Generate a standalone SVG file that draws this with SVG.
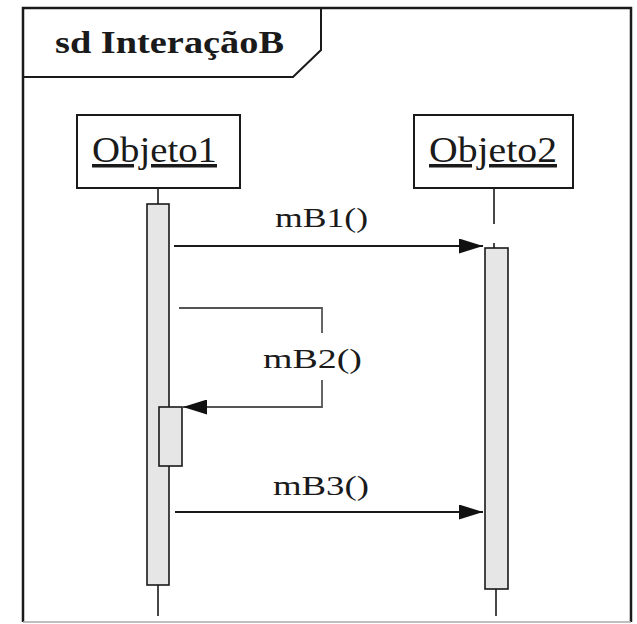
<svg xmlns="http://www.w3.org/2000/svg" width="637" height="624" viewBox="0 0 637 624">
<style>
  .frame{fill:none;stroke:#1a1a1a;stroke-width:2.5}
  .box{fill:#fff;stroke:#1a1a1a;stroke-width:2}
  .act{fill:#e6e6e6;stroke:#1a1a1a;stroke-width:1.6}
  .life{fill:none;stroke:#1a1a1a;stroke-width:1.6}
  .msg{fill:none;stroke:#1a1a1a;stroke-width:1.8}
  .self{fill:none;stroke:#555;stroke-width:1.8}
  .lbl{font-family:"Liberation Serif","DejaVu Serif",serif;font-size:28px;fill:#1a1a1a}
  .obj{font-family:"Liberation Serif","DejaVu Serif",serif;font-size:35px;fill:#1a1a1a;text-decoration:underline}
  .title{font-family:"Liberation Serif","DejaVu Serif",serif;font-size:31px;font-weight:bold;fill:#1a1a1a}
</style>
<defs>
  <marker id="arrow" viewBox="0 0 24 15" refX="24" refY="7.5" markerWidth="24" markerHeight="15" markerUnits="userSpaceOnUse" orient="auto">
    <path d="M0,0 L24,7.5 L0,15 Z" fill="#111"/>
  </marker>
</defs>
<rect width="637" height="624" fill="#fff"/>
<g id="frame">
  <path class="frame" d="M23,622 L23,8 L631,8 L631,622"/>
  <line x1="23" y1="622" x2="631" y2="622" stroke="#aaa" stroke-width="1.5"/>
  <path d="M23,77 L293,77 L321,50 L321,8" fill="none" stroke="#1a1a1a" stroke-width="2"/>
  <text class="title" x="55" y="53" textLength="229" lengthAdjust="spacingAndGlyphs">sd InteraçãoB</text>
</g>
<g id="objeto1">
  <line class="life" x1="158" y1="188" x2="158" y2="204"/>
  <line class="life" x1="158" y1="585" x2="158" y2="616"/>
  <rect class="box" x="77" y="115" width="163" height="73"/>
  <text class="obj" x="92" y="162" textLength="125" lengthAdjust="spacingAndGlyphs">Objeto1</text>
  <rect class="act" x="147" y="204" width="22" height="381"/>
  <rect class="act" x="159" y="407" width="23" height="59"/>
</g>
<g id="objeto2">
  <line class="life" x1="494" y1="188" x2="494" y2="224"/>
  <line class="life" x1="494" y1="243" x2="494" y2="248"/>
  <line class="life" x1="496" y1="589" x2="496" y2="616"/>
  <rect class="box" x="414" y="115" width="159" height="73"/>
  <text class="obj" x="429" y="162" textLength="128" lengthAdjust="spacingAndGlyphs">Objeto2</text>
  <rect class="act" x="485" y="248" width="23" height="341"/>
</g>
<g id="connectors">
  <line class="msg" x1="174" y1="246" x2="483" y2="246" marker-end="url(#arrow)"/>
  <text class="lbl" x="275" y="227" textLength="93" lengthAdjust="spacingAndGlyphs">mB1()</text>
  <path class="self" d="M179,308 L322,308 L322,333"/>
  <path class="self" d="M322,380 L322,407 L183,407" marker-end="url(#arrow)"/>
  <text class="lbl" x="263" y="368" textLength="99" lengthAdjust="spacingAndGlyphs">mB2()</text>
  <line class="msg" x1="175" y1="512" x2="483" y2="512" marker-end="url(#arrow)"/>
  <text class="lbl" x="273" y="495" textLength="96" lengthAdjust="spacingAndGlyphs">mB3()</text>
</g>
</svg>
